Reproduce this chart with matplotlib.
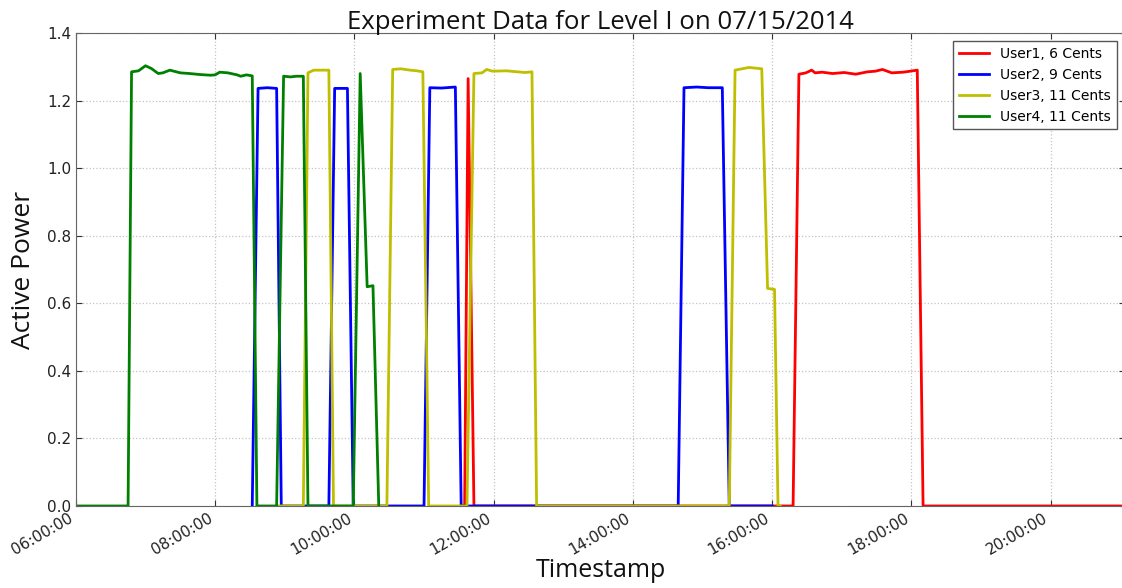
import datetime as dt
import matplotlib
matplotlib.use("Agg")
import matplotlib.pyplot as plt
import matplotlib.dates as mdates

DAY = "2014-07-15"

user1_times = ["11:32", "11:35", "11:38", "11:43", "16:18", "16:23", "16:29", "16:34",
               "16:37", "16:43", "16:52", "17:02", "17:12", "17:22", "17:29", "17:35",
               "17:43", "17:53", "18:05", "18:10", "21:05"]
user1_power = [0.0, 0.0, 1.265, 0.0, 0.0, 1.278, 1.282, 1.290,
               1.282, 1.284, 1.280, 1.283, 1.278, 1.285, 1.287, 1.292,
               1.282, 1.284, 1.290, 0.0, 0.0]

user2_times = ["08:32", "08:37", "08:45", "08:53", "08:57", "09:38", "09:43", "09:54",
               "09:59", "11:00", "11:05", "11:15", "11:27", "11:32", "14:39", "14:44",
               "14:55", "15:05", "15:17", "15:23", "16:00"]
user2_power = [0.0, 1.236, 1.238, 1.236, 0.0, 0.0, 1.236, 1.236,
               0.0, 0.0, 1.238, 1.237, 1.240, 0.0, 0.0, 1.238,
               1.240, 1.238, 1.238, 0.0, 0.0]

user3_times = ["08:53", "09:16", "09:20", "09:25", "09:38", "09:42", "10:28", "10:33",
               "10:40", "10:48", "10:54", "10:59", "11:04", "11:37", "11:43", "11:50",
               "11:54", "11:59", "12:11", "12:27", "12:33", "12:37", "15:23", "15:28",
               "15:40", "15:51", "15:56", "16:02", "16:05", "16:07"]
user3_power = [0.0, 0.0, 1.282, 1.290, 1.290, 0.0, 0.0, 1.292,
               1.294, 1.290, 1.288, 1.285, 0.0, 0.0, 1.280, 1.282,
               1.292, 1.287, 1.288, 1.283, 1.285, 0.0, 0.0, 1.290,
               1.298, 1.294, 0.644, 0.641, 0.0, 0.0]

user4_times = ["06:00", "06:45", "06:48", "06:54", "07:00", "07:05", "07:11", "07:15",
               "07:21", "07:30", "07:38", "07:47", "07:56", "08:00", "08:04", "08:11",
               "08:19", "08:22", "08:27", "08:32", "08:36", "08:53", "08:59", "09:05",
               "09:10", "09:16", "09:20", "09:59", "10:05", "10:11", "10:16", "10:21"]
user4_power = [0.0, 0.0, 1.285, 1.288, 1.303, 1.295, 1.280, 1.282,
               1.290, 1.282, 1.280, 1.277, 1.275, 1.276, 1.284, 1.282,
               1.276, 1.272, 1.276, 1.273, 0.0, 0.0, 1.272, 1.270,
               1.272, 1.272, 0.0, 0.0, 1.280, 0.649, 0.652, 0.0]

labels = ["User1, 6 Cents", "User2, 9 Cents", "User3, 11 Cents", "User4, 11 Cents"]
colors = ["#ff0000", "#0000ff", "#bfbf00", "#008000"]

x_start, x_end = "06:00", "21:04"


def stamp(hm):
    return dt.datetime.strptime(f"{DAY} {hm}", "%Y-%m-%d %H:%M")


fig = plt.figure(figsize=(11.22, 5.88), dpi=100)
ax = fig.add_axes([0.0676, 0.1395, 0.9351, 0.8044])

series = [(user1_times, user1_power), (user2_times, user2_power),
          (user3_times, user3_power), (user4_times, user4_power)]
for (times, power), lab, col in zip(series, labels, colors):
    ax.plot([stamp(t) for t in times], power, color=col, lw=2.0, label=lab)

ax.set_xlim(stamp(x_start), stamp(x_end))
ax.set_ylim(0.0, 1.4)
ax.set_yticks([0.0, 0.2, 0.4, 0.6, 0.8, 1.0, 1.2, 1.4])

ax.xaxis.set_major_locator(mdates.HourLocator(byhour=range(6, 22, 2)))
ax.xaxis.set_major_formatter(mdates.DateFormatter("%H:%M:%S"))
for lbl in ax.get_xticklabels():
    lbl.set_rotation(30)
    lbl.set_ha("right")
    lbl.set_fontsize(11)
for lbl in ax.get_yticklabels():
    lbl.set_fontsize(11)

ax.tick_params(direction="in", top=True, right=True, length=4, colors="#333333",
               labelcolor="#222222")
ax.grid(True, color="#c4c4c4", linestyle=":", linewidth=0.9)
for sp in ax.spines.values():
    sp.set_color("#666666")

ax.set_title("Experiment Data for Level I on 07/15/2014", family="Open Sans",
             fontsize=18.5, color="#111111", pad=3)
ax.set_xlabel("Timestamp", family="Open Sans", fontsize=18, color="#111111", labelpad=0)
ax.set_ylabel("Active Power", family="Open Sans", fontsize=19, color="#111111", labelpad=8)

leg = ax.legend(loc="upper right", fontsize=10, fancybox=False, framealpha=1,
                edgecolor="#555555", handlelength=2.2, borderaxespad=0.6)
leg.get_frame().set_linewidth(1.0)

fig.savefig("out.png", dpi=100)
